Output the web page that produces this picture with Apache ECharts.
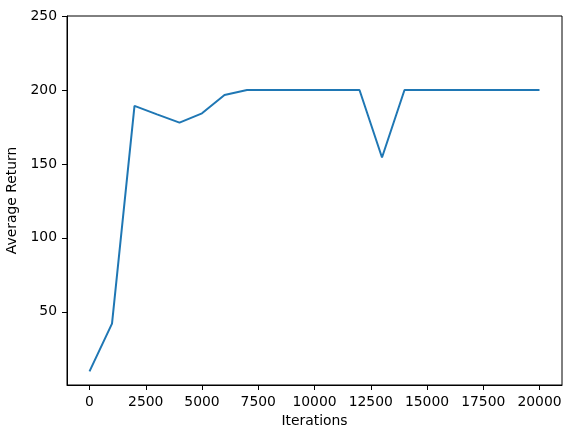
<!DOCTYPE html>
<html>
<head>
<meta charset="utf-8">
<script src="https://cdn.jsdelivr.net/npm/echarts@6/dist/echarts.min.js"></script>
<style>
  html, body { margin: 0; padding: 0; background: #fff; }
  #chart { width: 571px; height: 438px; }
</style>
</head>
<body>
<div id="chart"></div>
<script>
// data
const iterations = [0, 1000, 2000, 3000, 4000, 5000, 6000, 7000, 8000, 9000, 10000,
  11000, 12000, 13000, 14000, 15000, 16000, 17000, 18000, 19000, 20000]
const avgReturn = [9.7, 42, 189.2, 183.5, 177.9, 184.2, 196.6, 200, 200, 200, 200,
  200, 200, 154.3, 200, 200, 200, 200, 200, 200, 200]
const xTicks = [0, 2500, 5000, 7500, 10000, 12500, 15000, 17500, 20000]
const yTicks = [50, 100, 150, 200, 250]

const chart = echarts.init(document.getElementById('chart'))

const font = 'DejaVu Sans'
const axisCommon = {
  axisLine: { show: true, onZero: false, lineStyle: { color: '#000', width: 1 } },
  axisTick: { show: true, inside: false, length: 5, lineStyle: { color: '#000', width: 1 } },
  splitLine: { show: false },
  nameLocation: 'middle',
  nameTextStyle: { fontFamily: font, fontSize: 13.9, color: '#000' }
}

const option = {
  animation: false,
  backgroundColor: '#fff',
  grid: {
    left: 67, right: 9, top: 16, bottom: 53,
    containLabel: false, outerBoundsMode: 'none',
    show: true, borderColor: '#000', borderWidth: 1
  },
  xAxis: {
    ...axisCommon,
    type: 'value',
    min: -1000,
    max: 21000,
    name: 'Iterations',
    nameGap: 28,
    axisTick: { ...axisCommon.axisTick, customValues: xTicks },
    axisLabel: { customValues: xTicks, margin: 10, fontFamily: font, fontSize: 13.9, color: '#000',
      formatter: v => String(v) }
  },
  yAxis: {
    ...axisCommon,
    type: 'value',
    min: 0.5,
    max: 250,
    name: 'Average Return',
    nameGap: 41,
    axisTick: { ...axisCommon.axisTick, customValues: yTicks },
    axisLabel: { customValues: yTicks, margin: 10, fontFamily: font, fontSize: 13.9, color: '#000',
      formatter: v => String(v) }
  },
  series: [{
    type: 'line',
    data: iterations.map((x, i) => [x, avgReturn[i]]),
    showSymbol: false,
    symbol: 'none',
    lineStyle: { color: '#1f77b4', width: 2 },
    itemStyle: { color: '#1f77b4' }
  }]
}

chart.setOption(option)
</script>
</body>
</html>
